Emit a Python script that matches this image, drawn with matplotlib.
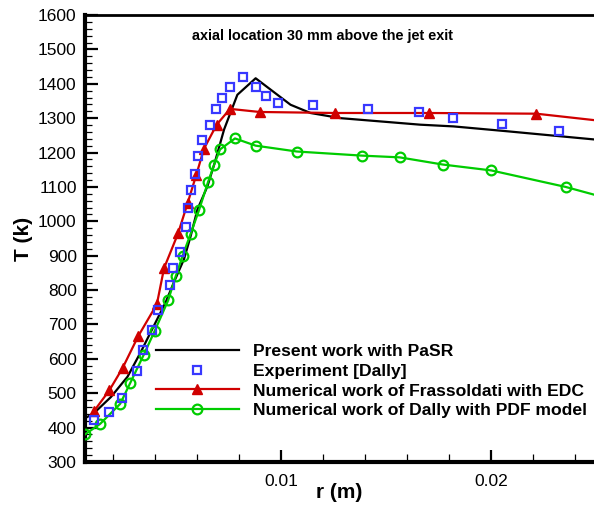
import matplotlib
matplotlib.use("Agg")
import matplotlib.pyplot as plt
from matplotlib.ticker import MultipleLocator, FixedLocator

plt.rcParams['font.family'] = ['Liberation Sans', 'DejaVu Sans']

# Present work with PaSR (line)
pasr_r = [0.000762, 0.001122, 0.001913, 0.002703, 0.003336, 0.004047, 0.004522, 0.004891,
          0.005391, 0.005708, 0.006033, 0.006507, 0.006850, 0.007298, 0.007930, 0.008800,
          0.010460, 0.011409, 0.012841, 0.016635, 0.018217, 0.020746, 0.025095]
pasr_T = [430, 443, 489, 548, 620, 707, 765, 820,
          890, 957, 1035, 1102, 1170, 1267, 1368, 1416,
          1339, 1315, 1300, 1281, 1276, 1262, 1237]

# Experiment [Dally]
exp_r = [0.001096, 0.001807, 0.002440, 0.003134, 0.003450, 0.003845, 0.004162, 0.004733,
         0.004873, 0.005207, 0.005506, 0.005593, 0.005708, 0.005901, 0.006077, 0.006235,
         0.006612, 0.006929, 0.007201, 0.007579, 0.008194, 0.008808, 0.009274, 0.009854,
         0.011540, 0.014149, 0.016583, 0.018199, 0.020527, 0.023215]
exp_T = [421, 445, 487, 564, 627, 684, 743, 814,
         863, 912, 982, 1040, 1090, 1138, 1189, 1236,
         1281, 1328, 1358, 1392, 1419, 1392, 1365, 1344,
         1339, 1328, 1317, 1300, 1284, 1262]

# Numerical work of Frassoldati with EDC
edc_r = [0.001096, 0.001834, 0.002466, 0.003213, 0.004100, 0.004443, 0.005110, 0.005558,
         0.005980, 0.006340, 0.006946, 0.007579, 0.008984, 0.012568, 0.017066, 0.022152, 0.025534]
edc_T = [447, 508, 573, 666, 759, 864, 965, 1052,
         1136, 1211, 1281, 1327, 1318, 1315, 1315, 1313, 1290]

# Numerical work of Dally with PDF model
pdf_r = [0.000674, 0.001403, 0.002352, 0.002826, 0.003468, 0.004003, 0.004636, 0.004996,
         0.005321, 0.005708, 0.006103, 0.006533, 0.006823, 0.007104, 0.007816, 0.008800,
         0.010759, 0.013868, 0.015652, 0.017716, 0.020009, 0.023549, 0.025534]
pdf_T = [380, 411, 469, 529, 611, 682, 770, 840,
         899, 964, 1032, 1114, 1164, 1209, 1241, 1220,
         1203, 1191, 1186, 1165, 1148, 1100, 1067]

labels = ["Present work with PaSR", "Experiment [Dally]",
          "Numerical work of Frassoldati with EDC",
          "Numerical work of Dally with PDF model"]

fig = plt.figure(figsize=(5.94, 5.08), dpi=100)
ax = fig.add_axes([85/594, 1 - 462/508, 1 - 85/594, (462 - 15)/508])

ax.plot(pasr_r, pasr_T, color='black', lw=1.6, label=labels[0], zorder=3)
ax.plot(exp_r, exp_T, ls='none', marker='s', ms=5.8, mfc='none', mec='#3838ff',
        mew=1.6, label=labels[1], zorder=4)
ax.plot(edc_r, edc_T, color='#d00000', lw=1.6, marker='^', ms=7, mfc='#d00000',
        mec='#d00000', label=labels[2], zorder=3)
ax.plot(pdf_r, pdf_T, color='#00cc00', lw=1.6, marker='o', ms=7, mfc='none',
        mec='#00cc00', mew=1.6, label=labels[3], zorder=3)

ax.set_xlim(0.00068, 0.02490)
ax.set_ylim(300, 1600)
ax.xaxis.set_major_locator(FixedLocator([0.01, 0.02]))
ax.xaxis.set_minor_locator(MultipleLocator(0.002))
ax.yaxis.set_major_locator(MultipleLocator(100))
ax.yaxis.set_minor_locator(MultipleLocator(20))
ax.set_xticklabels(['0.01', '0.02'])

ax.tick_params(which='major', direction='in', width=1.6, labelsize=12.5)
ax.tick_params(which='minor', direction='in', width=0.9)
ax.tick_params(axis='y', which='major', length=9.5, pad=6)
ax.tick_params(axis='y', which='minor', length=5)
ax.tick_params(axis='x', which='major', length=8.7, pad=9)
ax.tick_params(axis='x', which='minor', length=5.5)

ax.spines['right'].set_visible(False)
ax.spines['left'].set_linewidth(3)
ax.spines['bottom'].set_linewidth(3)
ax.spines['top'].set_linewidth(2)

ax.set_xlabel('r (m)', fontsize=15, fontweight='bold')
ax.set_ylabel('T (k)', fontsize=15, fontweight='bold')
ax.xaxis.set_label_coords(0.5, -0.047)
ax.yaxis.set_label_coords(-0.102, 0.5)

fig.text(192/594, 1 - 36/508, 'axial location 30 mm above the jet exit',
         fontsize=10.4, fontweight='bold', ha='left', va='center')

leg = ax.legend(loc='upper left', bbox_to_anchor=(147/594, 1 - 335/508),
                bbox_transform=fig.transFigure, frameon=False, borderpad=0,
                handlelength=4.74, handletextpad=0.8, labelspacing=0.26,
                numpoints=1, prop={'size': 12.6, 'weight': 'bold'})

fig.savefig('out.png', dpi=100)
